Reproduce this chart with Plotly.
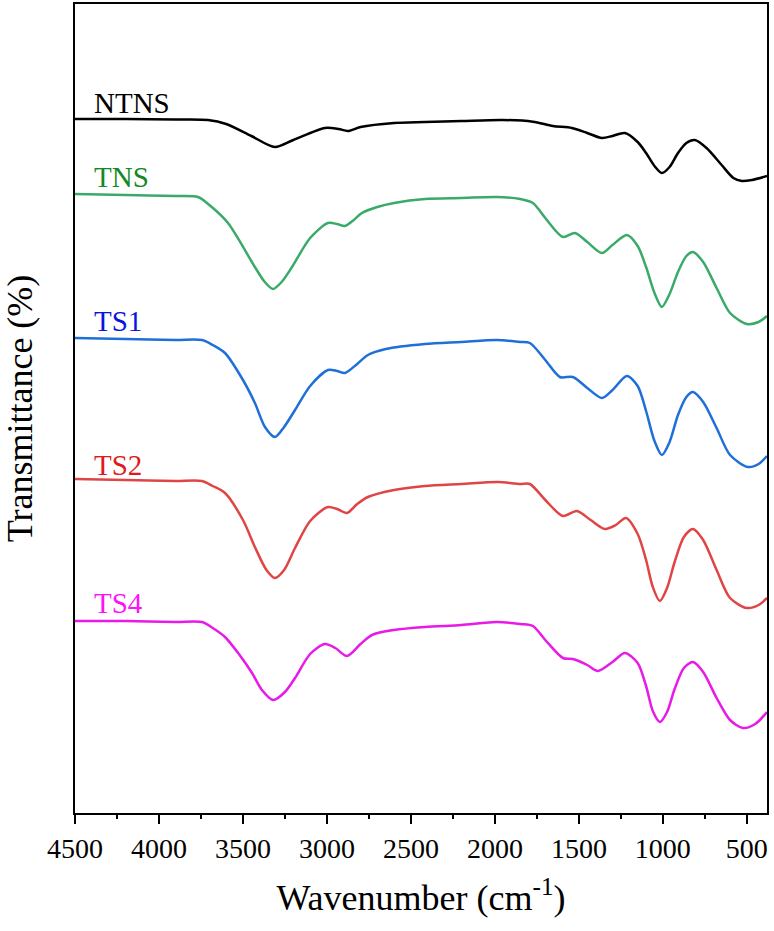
import plotly.graph_objects as go

# Wavenumber (cm-1) and stacked transmittance (arbitrary offset units) for each sample
ntns_x = [4500, 4200, 3900, 3708, 3600, 3450, 3310, 3200, 3012, 2930, 2875, 2800, 2600, 2417, 2200,
          1952, 1774, 1655, 1542, 1450, 1363, 1300, 1226, 1150, 1100, 1050, 1006, 960, 910, 860,
          810, 740, 650, 580, 530, 470, 380]
ntns_y = [694, 694, 693.5, 693, 689, 677, 666, 673, 685, 684, 682, 686, 690, 691, 692,
          693, 691.3, 687, 685, 680, 675, 677, 680, 671, 660, 647, 640, 646, 660, 670,
          673, 665, 648, 635, 632, 633, 637]

tns_x = [4500, 4200, 3900, 3768, 3700, 3589, 3429, 3370, 3321, 3270, 3208, 3100, 2994, 2940, 2893, 2840,
         2792, 2700, 2600, 2417, 2200, 1988, 1850, 1774, 1700, 1595, 1524, 1450, 1363, 1300, 1214,
         1150, 1100, 1050, 1006, 960, 910, 860, 821, 760, 680, 600, 500, 430, 380]
tns_y = [619, 618, 617, 616, 608, 590, 546, 531, 524, 531, 546, 575, 590, 589, 587, 593,
         600, 606, 610, 614, 615, 616, 614, 610, 595, 576, 580, 571, 560, 568, 578,
         567, 546, 520, 506, 519, 541, 557, 561, 551, 525, 500, 489, 491, 497]

ts1_x = [4500, 4200, 3900, 3744, 3680, 3607, 3500, 3429, 3369, 3310, 3255, 3190, 3100, 2994, 2940,
         2893, 2820, 2756, 2650, 2417, 2200, 1988, 1850, 1792, 1700, 1613, 1536, 1450, 1363, 1300,
         1214, 1150, 1100, 1050, 1006, 960, 910, 860, 821, 760, 680, 600, 494, 430, 380]
ts1_y = [475, 474, 473, 473, 468, 460, 433, 410, 386, 376, 386, 403, 427, 443, 442,
         440, 449, 458, 464, 469, 471, 473, 471, 470, 453, 436, 436, 425, 415, 423,
         437, 427, 402, 372, 358, 371, 398, 416, 421, 411, 385, 358, 346, 349, 357]

ts2_x = [4500, 4200, 3900, 3744, 3680, 3607, 3500, 3429, 3360, 3310, 3255, 3190, 3100, 2994, 2940,
         2881, 2820, 2756, 2600, 2417, 2200, 1982, 1850, 1792, 1700, 1595, 1512, 1430, 1345, 1280,
         1220, 1150, 1100, 1060, 1018, 975, 930, 875, 821, 760, 680, 600, 500, 430, 380]
ts2_y = [334, 333, 332, 332, 327, 320, 293, 266, 243, 235, 243, 265, 292, 306, 304,
         300, 309, 316, 323, 327, 329, 331, 329, 329, 313, 297, 302, 293, 284, 288,
         295, 279, 253, 226, 212, 225, 251, 276, 284, 273, 243, 215, 205, 208, 215]

ts4_x = [4500, 4200, 3900, 3744, 3680, 3607, 3520, 3446, 3387, 3321, 3250, 3190, 3100, 3012, 2950,
         2881, 2800, 2732, 2600, 2417, 2200, 1988, 1850, 1774, 1700, 1595, 1536, 1450, 1387, 1300,
         1226, 1150, 1100, 1060, 1018, 975, 930, 875, 821, 760, 680, 600, 524, 450, 380]
ts4_y = [192, 192, 191, 191, 185, 176, 158, 140, 123, 113, 121, 135, 159, 169, 165,
         157, 169, 178, 183, 186, 188, 191, 189, 187, 173, 155, 154, 148, 142, 151,
         160, 150, 127, 102, 91, 101, 124, 145, 151, 141, 115, 93, 85, 89, 101]

names = ["NTNS", "TNS", "TS1", "TS2", "TS4"]
line_colors = ["#000000", "#3aaa68", "#1f6fd8", "#e04545", "#e81ae8"]
label_colors = ["#000000", "#138a22", "#0a14e0", "#e01a1a", "#ff10ff"]
label_y = [710, 636, 492, 348, 210]

xs = [ntns_x, tns_x, ts1_x, ts2_x, ts4_x]
ys = [ntns_y, tns_y, ts1_y, ts2_y, ts4_y]

SERIF = "Liberation Serif, Times New Roman, serif"

fig = go.Figure()
for name, x, y, c in zip(names, xs, ys, line_colors):
    fig.add_trace(go.Scatter(x=x, y=y, mode="lines", name=name,
                             line=dict(color=c, width=2.5, shape="spline", smoothing=0.8)))

for name, ly, c in zip(names, label_y, label_colors):
    fig.add_annotation(x=4400, y=ly, xref="x", yref="y", text=name, showarrow=False,
                       xanchor="left", yanchor="middle",
                       font=dict(family=SERIF, size=29, color=c))

fig.update_layout(
    width=774, height=931,
    margin=dict(l=75, r=7, t=4, b=118),
    plot_bgcolor="white", paper_bgcolor="white",
    showlegend=False,
    font=dict(family=SERIF, color="black"),
)
fig.update_xaxes(
    range=[4500, 380], tickvals=[4500, 4000, 3500, 3000, 2500, 2000, 1500, 1000, 500],
    ticks="outside", ticklen=9, tickwidth=2, tickcolor="black",
    minor=dict(ticks="outside", ticklen=4, tickwidth=2, tickcolor="black",
               tickvals=[4250, 3750, 3250, 2750, 2250, 1750, 1250, 750]),
    showline=True, linewidth=2, linecolor="black", mirror=True,
    showgrid=False, zeroline=False, automargin=False,
    tickfont=dict(family=SERIF, size=28, color="black"),
    title=dict(text="Wavenumber (cm<sup>-1</sup>)", standoff=22,
               font=dict(family=SERIF, size=36, color="black")),
)
fig.update_yaxes(
    range=[0, 809], showticklabels=False, ticks="",
    showline=True, linewidth=2, linecolor="black", mirror=True,
    showgrid=False, zeroline=False, automargin=False,
    title=dict(text="Transmittance (%)", standoff=30,
               font=dict(family=SERIF, size=36, color="black")),
)

fig.write_html(
    "out.html",
    config={"displayModeBar": False},
    post_script="document.body.style.margin='0';document.body.style.overflow='hidden';",
)
